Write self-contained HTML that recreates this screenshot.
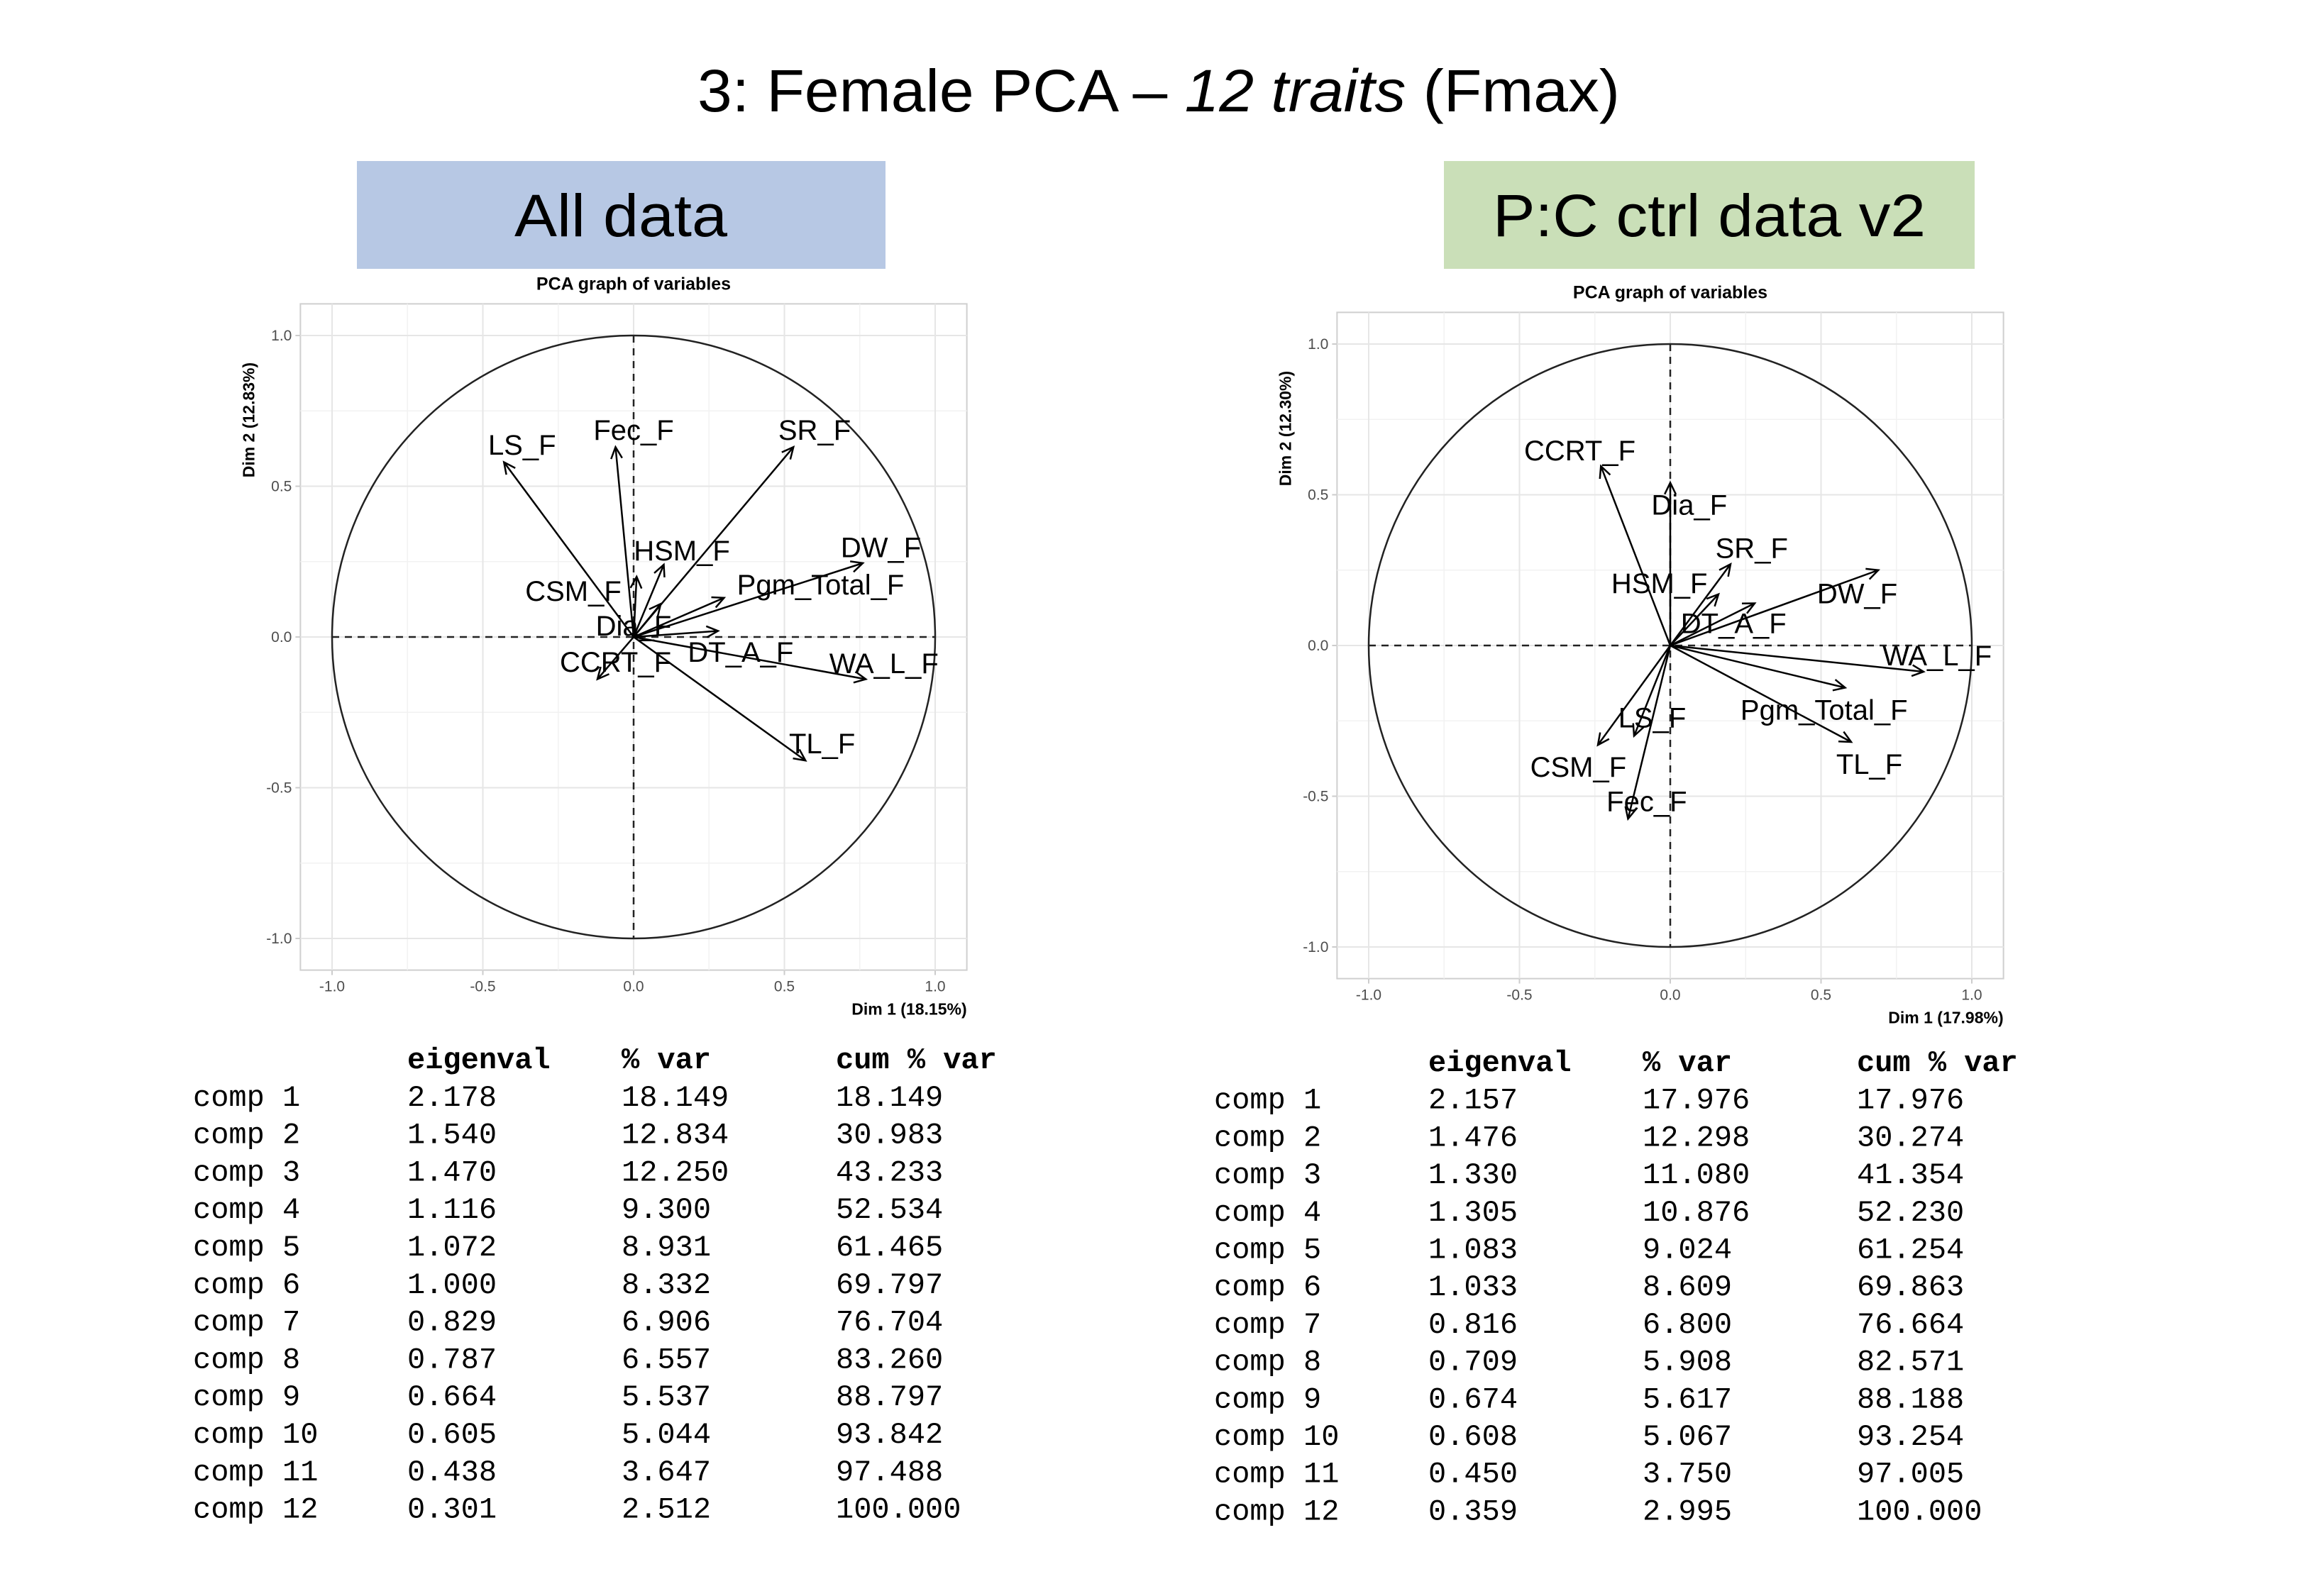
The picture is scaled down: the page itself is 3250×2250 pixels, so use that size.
<!DOCTYPE html>
<html><head><meta charset="utf-8"><style>
html,body{margin:0;padding:0;background:#fff;}
svg{display:block;}
</style></head><body>
<svg id="root" width="3250" height="2250" viewBox="0 0 3250 2250" xmlns="http://www.w3.org/2000/svg">
<text x="1633" y="157" text-anchor="middle" font-family="Liberation Sans, sans-serif" font-size="84" textLength="1300" lengthAdjust="spacingAndGlyphs">3: Female PCA – <tspan font-style="italic">12 traits</tspan> (Fmax)</text>
<rect x="503" y="227" width="745" height="152" fill="#b7c8e4"/>
<text x="875" y="333" text-anchor="middle" font-family="Liberation Sans, sans-serif" font-size="84" textLength="300" lengthAdjust="spacingAndGlyphs">All data</text>
<rect x="2035" y="227" width="748" height="152" fill="#cadfb8"/>
<text x="2409" y="333" text-anchor="middle" font-family="Liberation Sans, sans-serif" font-size="84" textLength="610" lengthAdjust="spacingAndGlyphs">P:C ctrl data v2</text>
<g id="c1"></g><g id="c2"></g><g id="t1"></g><g id="t2"></g>
</svg>
<script>
const NS="http://www.w3.org/2000/svg";
// Chart 1: All data
const vars1=["LS_F","Fec_F","SR_F","HSM_F","CSM_F","DW_F","Pgm_Total_F","Dia_F","DT_A_F","WA_L_F","CCRT_F","TL_F"];
const dim1_1=[-0.43,-0.06,0.53,0.10,0.01,0.76,0.30,0.09,0.28,0.77,-0.12,0.57];
const dim2_1=[0.58,0.63,0.63,0.24,0.20,0.245,0.13,0.11,0.02,-0.14,-0.14,-0.41];
const labX1=[-0.37,0.0,0.60,0.16,-0.20,0.82,0.62,0.0,0.355,0.83,-0.06,0.625];
const labY1=[0.64,0.69,0.69,0.29,0.155,0.30,0.176,0.04,-0.047,-0.085,-0.08,-0.35];
// Chart 2: P:C ctrl data v2
const vars2=["CCRT_F","Dia_F","SR_F","HSM_F","DT_A_F","DW_F","WA_L_F","Pgm_Total_F","TL_F","LS_F","CSM_F","Fec_F"];
const dim1_2=[-0.23,0.0,0.20,0.16,0.28,0.69,0.84,0.58,0.60,-0.12,-0.24,-0.14];
const dim2_2=[0.595,0.54,0.27,0.17,0.14,0.25,-0.087,-0.14,-0.32,-0.30,-0.33,-0.575];
const labX2=[-0.30,0.063,0.27,-0.036,0.21,0.62,0.885,0.51,0.66,-0.06,-0.305,-0.078];
const labY2=[0.65,0.47,0.326,0.21,0.077,0.175,-0.03,-0.21,-0.39,-0.237,-0.40,-0.514];
const ticks=[-1.0,-0.5,0.0,0.5,1.0];
const tickLabels=["-1.0","-0.5","0.0","0.5","1.0"];
const minorTicks=[-0.75,-0.25,0.25,0.75];
// Tables
const compLabels=["comp 1","comp 2","comp 3","comp 4","comp 5","comp 6","comp 7","comp 8","comp 9","comp 10","comp 11","comp 12"];
const eig1=["2.178","1.540","1.470","1.116","1.072","1.000","0.829","0.787","0.664","0.605","0.438","0.301"];
const pv1=["18.149","12.834","12.250","9.300","8.931","8.332","6.906","6.557","5.537","5.044","3.647","2.512"];
const cum1=["18.149","30.983","43.233","52.534","61.465","69.797","76.704","83.260","88.797","93.842","97.488","100.000"];
const eig2=["2.157","1.476","1.330","1.305","1.083","1.033","0.816","0.709","0.674","0.608","0.450","0.359"];
const pv2=["17.976","12.298","11.080","10.876","9.024","8.609","6.800","5.908","5.617","5.067","3.750","2.995"];
const cum2=["17.976","30.274","41.354","52.230","61.254","69.863","76.664","82.571","88.188","93.254","97.005","100.000"];

function mk(parent,tag,attrs){const e=document.createElementNS(NS,tag);for(const k in attrs)e.setAttribute(k,attrs[k]);parent.appendChild(e);return e;}

function chart(g,cx,cy,u,xs,ys,names,lx,ly,xlab,ylab,idx){
  const X=v=>cx+v*u, Y=v=>cy-v*u, L=1.105;
  const p=mk(g,"rect",{x:X(-L),y:Y(L),width:2*L*u,height:2*L*u,fill:"#fff",stroke:"#cfcfcf","stroke-width":2});
  
  
  minorTicks.forEach(t=>{
    const a=mk(g,"line",{x1:X(t),x2:X(t),y1:Y(L),y2:Y(-L),stroke:"#f2f2f2","stroke-width":1.5});
    
    
    const b=mk(g,"line",{x1:X(-L),x2:X(L),y1:Y(t),y2:Y(t),stroke:"#f2f2f2","stroke-width":1.5});
    
    
  });
  ticks.forEach((t,i)=>{
    const a=mk(g,"line",{x1:X(t),x2:X(t),y1:Y(L),y2:Y(-L),stroke:"#e6e6e6","stroke-width":2});
    
    
    const b=mk(g,"line",{x1:X(-L),x2:X(L),y1:Y(t),y2:Y(t),stroke:"#e6e6e6","stroke-width":2});
    
    
    mk(g,"line",{x1:X(t),x2:X(t),y1:Y(-L),y2:Y(-L)+7,stroke:"#ccc","stroke-width":2});
    mk(g,"line",{x1:X(-L)-7,x2:X(-L),y1:Y(t),y2:Y(t),stroke:"#ccc","stroke-width":2});
    const tx=mk(g,"text",{x:X(t),y:Y(-L)+30,"text-anchor":"middle","font-family":"Liberation Sans, sans-serif","font-size":21,fill:"#4d4d4d"});
    tx.textContent=tickLabels[i];
    
    
    const ty=mk(g,"text",{x:X(-L)-12,y:Y(t)+7,"text-anchor":"end","font-family":"Liberation Sans, sans-serif","font-size":21,fill:"#4d4d4d"});
    ty.textContent=tickLabels[i];
    
    
  });
  const c=mk(g,"circle",{cx:cx,cy:cy,r:u,fill:"none",stroke:"#222","stroke-width":2.5});
  
  
  const h=mk(g,"line",{x1:X(-1),x2:X(1),y1:cy,y2:cy,stroke:"#222","stroke-width":2.5,"stroke-dasharray":"10,8"});
  
  
  const v=mk(g,"line",{x1:cx,x2:cx,y1:Y(1),y2:Y(-1),stroke:"#222","stroke-width":2.5,"stroke-dasharray":"10,8"});
  
  
  names.forEach((n,i)=>{
    const x2=X(xs[i]),y2=Y(ys[i]);
    const ag=mk(g,"g",{});
    
    
    mk(ag,"line",{x1:cx,y1:cy,x2:x2,y2:y2,stroke:"#000","stroke-width":2.5});
    const ang=Math.atan2(y2-cy,x2-cx),s=18,w=0.45;
    mk(ag,"polyline",{points:`${x2-s*Math.cos(ang-w)},${y2-s*Math.sin(ang-w)} ${x2},${y2} ${x2-s*Math.cos(ang+w)},${y2-s*Math.sin(ang+w)}`,fill:"none",stroke:"#000","stroke-width":2.5});
    const t=mk(g,"text",{x:X(lx[i]),y:Y(ly[i])+15,"text-anchor":"middle","font-family":"Liberation Sans, sans-serif","font-size":40,fill:"#000"});
    t.textContent=n;
    
    
  });
  const ti=mk(g,"text",{x:cx,y:Y(L)-20,"text-anchor":"middle","font-family":"Liberation Sans, sans-serif","font-size":25,"font-weight":"bold"});
  ti.textContent="PCA graph of variables";
  
  
  const xl=mk(g,"text",{x:X(L),y:Y(-L)+63,"text-anchor":"end","font-family":"Liberation Sans, sans-serif","font-size":23,"font-weight":"bold"});
  xl.textContent=xlab;
  
  
  const yx=X(-L)-65, yy=Y(0.72);
  const yl=mk(g,"text",{x:yx,y:yy,"text-anchor":"middle","font-family":"Liberation Sans, sans-serif","font-size":23,"font-weight":"bold",transform:`rotate(-90 ${yx} ${yy})`});
  yl.textContent=ylab;
  
  
}
chart(document.getElementById("c1"),893,898,425,dim1_1,dim2_1,vars1,labX1,labY1,"Dim 1 (18.15%)","Dim 2 (12.83%)",1);
chart(document.getElementById("c2"),2354,910,425,dim1_2,dim2_2,vars2,labX2,labY2,"Dim 1 (17.98%)","Dim 2 (12.30%)",2);

function table(g,x0,y0,dy,eig,pv,cum,idx){
  const cols=[x0,x0+302,x0+604,x0+906];
  const hdr=["eigenval","% var","cum % var"];
  hdr.forEach((h,j)=>{
    const t=mk(g,"text",{x:cols[j+1],y:y0,"font-family":"Liberation Mono, monospace","font-size":42,"font-weight":"bold"});
    t.textContent=h;
    
    
  });
  compLabels.forEach((c,i)=>{
    const y=y0+dy*(i+1);
    [c,eig[i],pv[i],cum[i]].forEach((v,j)=>{
      const t=mk(g,"text",{x:cols[j],y:y,"font-family":"Liberation Mono, monospace","font-size":42});
      t.textContent=v;
      
      
    });
  });
  
  
}
table(document.getElementById("t1"),272,1506,52.8,eig1,pv1,cum1,1);
table(document.getElementById("t2"),1711,1510,52.7,eig2,pv2,cum2,2);
</script>
</body></html>
